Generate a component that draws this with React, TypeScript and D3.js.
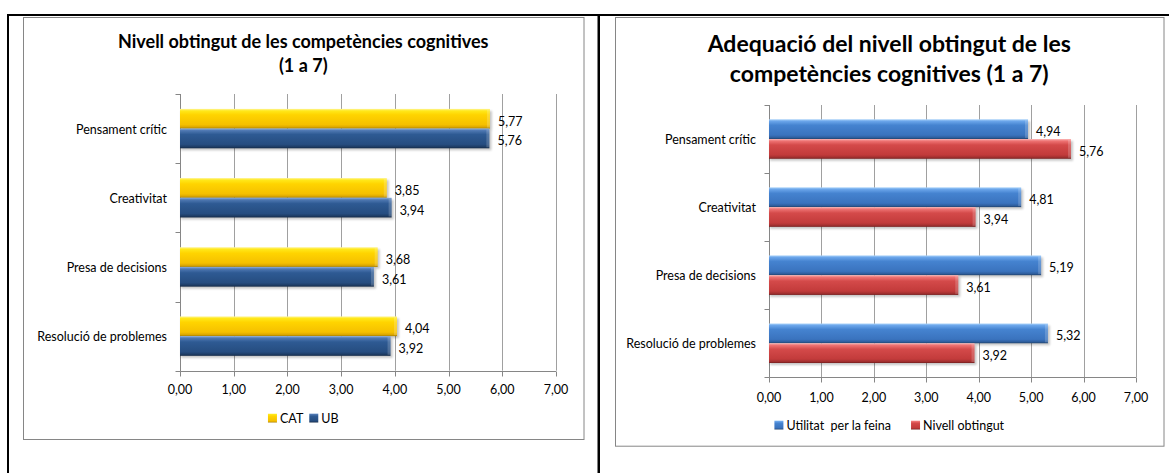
import { useEffect, useRef } from "react";
import * as d3 from "d3";

const categories = [
  "Pensament crític",
  "Creativitat",
  "Presa de decisions",
  "Resolució de problemes",
];
const catValues = [5.77, 3.85, 3.68, 4.04];
const ubValues = [5.76, 3.94, 3.61, 3.92];
const utilitatValues = [4.94, 4.81, 5.19, 5.32];
const nivellValues = [5.76, 3.94, 3.61, 3.92];
const xTicks = [0, 1, 2, 3, 4, 5, 6, 7];

const W = 1169;
const H = 473;
const FONT = "Lato, 'Open Sans', sans-serif";

interface Series {
  name: string;
  values: number[];
  grad: string;
}

interface PanelCfg {
  frame: { x: number; y: number; w: number; h: number };
  plot: { left: number; right: number; top: number; bottom: number };
  title: string[];
  titleSize: number;
  titleBaselines: number[];
  series: Series[];
  pairRatio: number;
  tickBaseline: number;
  legendY: number;
  legendGap: number;
}

const leftPanel: PanelCfg = {
  frame: { x: 23, y: 17, w: 560.5, h: 422 },
  plot: { left: 180, right: 556, top: 94, bottom: 370.7 },
  title: ["Nivell obtingut de les competències cognitives", "(1 a 7)"],
  titleSize: 18,
  titleBaselines: [48, 72],
  series: [
    { name: "CAT", values: catValues, grad: "gYellow" },
    { name: "UB", values: ubValues, grad: "gNavy" },
  ],
  pairRatio: 0.57,
  tickBaseline: 394,
  legendY: 418,
  legendGap: 6,
};

const rightPanel: PanelCfg = {
  frame: { x: 615, y: 17, w: 548.5, h: 428.7 },
  plot: { left: 769, right: 1136, top: 105, bottom: 377.3 },
  title: ["Adequació del nivell obtingut de les", "competències cognitives (1 a 7)"],
  titleSize: 23,
  titleBaselines: [52, 82],
  series: [
    { name: "Utilitat  per la feina", values: utilitatValues, grad: "gBlue" },
    { name: "Nivell obtingut", values: nivellValues, grad: "gRed" },
  ],
  pairRatio: 0.58,
  tickBaseline: 401.7,
  legendY: 425,
  legendGap: 20,
};

const gradients: [string, [number, string][]][] = [
  ["gYellow", [[0, "#FFF59A"], [0.1, "#FFE81A"], [0.3, "#FFD400"], [0.8, "#F5C000"], [0.92, "#DDA800"], [1, "#A88000"]]],
  ["gNavy", [[0, "#8FB0DA"], [0.1, "#4F78B2"], [0.3, "#2E5A93"], [0.8, "#264D80"], [0.92, "#1E3D66"], [1, "#142A48"]]],
  ["gBlue", [[0, "#A9D2FA"], [0.1, "#6AA5EA"], [0.3, "#4583D0"], [0.8, "#3A73BE"], [0.92, "#2F5F9F"], [1, "#21446F"]]],
  ["gRed", [[0, "#FBB5B5"], [0.1, "#EE7373"], [0.3, "#D44A4A"], [0.8, "#C23B3B"], [0.92, "#A43131"], [1, "#761F1F"]]],
];

const fmt = (v: number) => d3.format(".2f")(v).replace(".", ",");

export default function App() {
  const ref = useRef<SVGSVGElement>(null);

  useEffect(() => {
    draw();
  });

  function drawPanel(svg: d3.Selection<SVGSVGElement, unknown, null, undefined>, c: PanelCfg) {
    const g = svg.append("g").attr("font-family", FONT);
    const f = c.frame;
    const p = c.plot;
    const cx = f.x + f.w / 2;

    g.append("rect")
      .attr("x", f.x + 0.5)
      .attr("y", f.y + 0.5)
      .attr("width", f.w)
      .attr("height", f.h)
      .attr("fill", "#fff")
      .attr("stroke", "#868686");

    c.title.forEach((t, i) => {
      g.append("text")
        .attr("x", cx)
        .attr("y", c.titleBaselines[i])
        .attr("text-anchor", "middle")
        .attr("font-weight", 700)
        .attr("font-size", c.titleSize)
        .attr("fill", "#000")
        .text(t);
    });

    const x = d3.scaleLinear().domain([0, 7]).range([p.left, p.right]);
    const y = d3.scaleBand().domain(categories).range([p.top, p.bottom]);

    // gridlines
    g.selectAll(".grid")
      .data(xTicks.slice(1))
      .enter()
      .append("line")
      .attr("x1", (d) => Math.round(x(d)) + 0.5)
      .attr("x2", (d) => Math.round(x(d)) + 0.5)
      .attr("y1", p.top)
      .attr("y2", p.bottom)
      .attr("stroke", "#a0a0a0");

    // axes
    const ax = Math.round(p.left) + 0.5;
    const ay = Math.round(p.bottom) + 0.5;
    g.append("line").attr("x1", ax).attr("x2", ax).attr("y1", p.top).attr("y2", ay).attr("stroke", "#868686");
    g.append("line").attr("x1", ax).attr("x2", p.right).attr("y1", ay).attr("y2", ay).attr("stroke", "#868686");
    const catTicks = categories.map((d) => y(d)!).concat([p.bottom]);
    g.selectAll(".ctick")
      .data(catTicks)
      .enter()
      .append("line")
      .attr("x1", ax - 5)
      .attr("x2", ax)
      .attr("y1", (d) => Math.round(d) + 0.5)
      .attr("y2", (d) => Math.round(d) + 0.5)
      .attr("stroke", "#868686");
    g.selectAll(".xtick")
      .data(xTicks)
      .enter()
      .append("line")
      .attr("x1", (d) => Math.round(x(d)) + 0.5)
      .attr("x2", (d) => Math.round(x(d)) + 0.5)
      .attr("y1", ay)
      .attr("y2", ay + 5)
      .attr("stroke", "#868686");
    g.selectAll(".xlab")
      .data(xTicks)
      .enter()
      .append("text")
      .attr("x", (d) => x(d))
      .attr("y", c.tickBaseline)
      .attr("text-anchor", "middle")
      .attr("font-size", 12.5)
      .text((d) => fmt(d));

    // category labels
    g.selectAll(".clab")
      .data(categories)
      .enter()
      .append("text")
      .attr("x", p.left - 13)
      .attr("y", (d) => y(d)! + y.bandwidth() / 2 + 5)
      .attr("text-anchor", "end")
      .attr("font-size", 12.5)
      .text((d) => d);

    // bars
    const pairH = y.bandwidth() * c.pairRatio;
    const inner = d3
      .scaleBand()
      .domain(c.series.map((s) => s.name))
      .range([-pairH / 2, pairH / 2]);

    c.series.forEach((s) => {
      categories.forEach((cat, i) => {
        const v = s.values[i];
        const by = y(cat)! + y.bandwidth() / 2 + inner(s.name)!;
        const bh = inner.bandwidth();
        const bw = x(v) - x(0);
        g.append("rect")
          .attr("x", x(0) + 1)
          .attr("y", by + 2)
          .attr("width", bw + 1)
          .attr("height", bh)
          .attr("fill", "#000")
          .attr("opacity", 0.22)
          .attr("filter", "url(#shadow)");
        g.append("rect")
          .attr("x", x(0))
          .attr("y", by)
          .attr("width", bw)
          .attr("height", bh)
          .attr("fill", `url(#${s.grad})`);
        g.append("rect")
          .attr("x", x(v) - 3)
          .attr("y", by + 1)
          .attr("width", 3)
          .attr("height", bh - 2)
          .attr("fill", "#fff")
          .attr("opacity", 0.18);
        g.append("text")
          .attr("x", x(v) + 8)
          .attr("y", by + bh / 2 + 7)
          .attr("font-size", 12.5)
          .text(fmt(v));
      });
    });

    // legend
    const lg = g.append("g");
    let cur = 0;
    c.series.forEach((s, i) => {
      if (i > 0) cur += c.legendGap;
      lg.append("rect")
        .attr("x", cur)
        .attr("y", c.legendY - 4.5)
        .attr("width", 9)
        .attr("height", 9)
        .attr("fill", `url(#${s.grad})`);
      const t = lg
        .append("text")
        .attr("x", cur + 12)
        .attr("y", c.legendY + 4.5)
        .attr("font-size", 12.5)
        .style("white-space", "pre")
        .text(s.name);
      cur += 12 + (t.node() as SVGTextElement).getComputedTextLength();
    });
    lg.attr("transform", `translate(${cx - cur / 2},0)`);
  }

  function draw() {
    const svg = d3.select(ref.current!);
    svg.selectAll("*").remove();
    svg.append("rect").attr("width", W).attr("height", H).attr("fill", "#fff");

    const defs = svg.append("defs");
    gradients.forEach(([id, stops]) => {
      const lg = defs.append("linearGradient").attr("id", id).attr("x1", 0).attr("y1", 0).attr("x2", 0).attr("y2", 1);
      stops.forEach(([o, col]) => lg.append("stop").attr("offset", o).attr("stop-color", col));
    });
    defs
      .append("filter")
      .attr("id", "shadow")
      .attr("x", "-10%")
      .attr("y", "-50%")
      .attr("width", "120%")
      .attr("height", "200%")
      .append("feGaussianBlur")
      .attr("stdDeviation", 1.2);

    drawPanel(svg, leftPanel);
    drawPanel(svg, rightPanel);

    // table borders
    svg.append("rect").attr("x", 7).attr("y", 14).attr("width", W - 7).attr("height", 2).attr("fill", "#000");
    svg.append("rect").attr("x", 7).attr("y", 14).attr("width", 2).attr("height", H - 14).attr("fill", "#000");
    svg.append("rect").attr("x", 597.5).attr("y", 14).attr("width", 2.5).attr("height", H - 14).attr("fill", "#000");
  }

  return (
    <svg
      ref={ref}
      width={W}
      height={H}
      style={{ position: "absolute", left: 0, top: 0 }}
    ></svg>
  );
}
